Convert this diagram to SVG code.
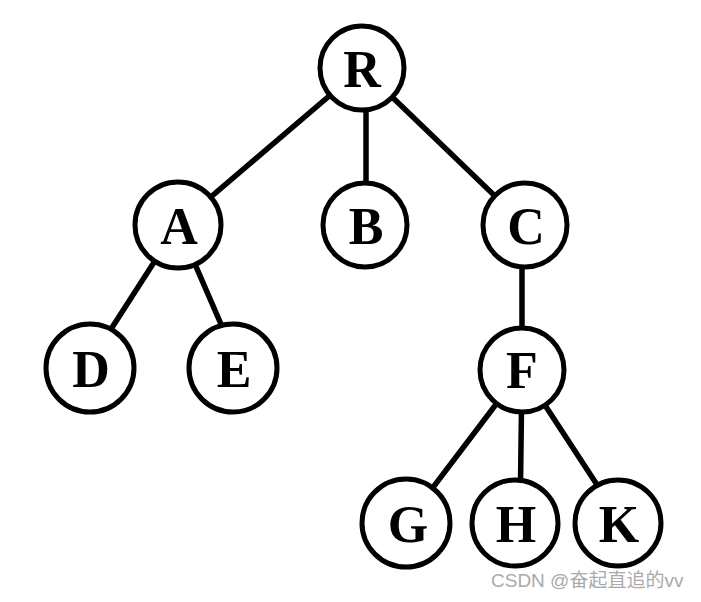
<svg xmlns="http://www.w3.org/2000/svg" width="701" height="602" viewBox="0 0 701 602">
<style>
.n circle{fill:#fff;stroke:#000;stroke-width:5}
.n text{font-family:"Liberation Serif",serif;font-weight:bold;font-size:52px;text-anchor:middle;dominant-baseline:central;fill:#000}
#edges line{stroke:#000;stroke-width:5.5;stroke-linecap:round}
.wm{font-family:"Liberation Sans","Noto Sans CJK SC",sans-serif;font-size:19px;fill:#aaa}
</style>
<rect width="701" height="602" fill="#fff"/>
<g id="edges">
<line x1="362" y1="68" x2="178" y2="225"/>
<line x1="366" y1="68" x2="366" y2="225"/>
<line x1="362" y1="68" x2="525" y2="225"/>
<line x1="178" y1="225" x2="86" y2="368"/>
<line x1="178" y1="225" x2="240" y2="368"/>
<line x1="522" y1="225" x2="522" y2="370"/>
<line x1="522" y1="370" x2="406" y2="523"/>
<line x1="522" y1="370" x2="520" y2="523"/>
<line x1="522" y1="370" x2="622" y2="523"/>
</g>
<g id="R" class="n"><circle cx="362" cy="68" r="42"/><text x="362" y="69">R</text></g>
<g id="A" class="n"><circle cx="178" cy="225" r="43"/><text x="179" y="226">A</text></g>
<g id="B" class="n"><circle cx="365" cy="225" r="42"/><text x="366" y="226">B</text></g>
<g id="C" class="n"><circle cx="525" cy="225" r="42"/><text x="526" y="226">C</text></g>
<g id="D" class="n"><circle cx="90" cy="368" r="44"/><text x="91" y="369">D</text></g>
<g id="E" class="n"><circle cx="233" cy="368" r="44"/><text x="234" y="369">E</text></g>
<g id="F" class="n"><circle cx="522" cy="370" r="42"/><text x="522" y="370">F</text></g>
<g id="G" class="n"><circle cx="406" cy="523" r="44"/><text x="408" y="524">G</text></g>
<g id="H" class="n"><circle cx="515" cy="523" r="43"/><text x="516" y="524">H</text></g>
<g id="K" class="n"><circle cx="618" cy="523" r="43"/><text x="619" y="524">K</text></g>
<text class="wm" x="491" y="587">CSDN @奋起直追的vv</text>
</svg>
